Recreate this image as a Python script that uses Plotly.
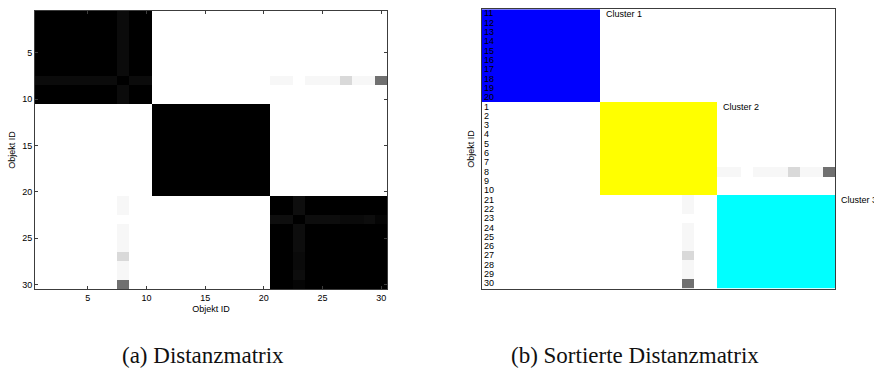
import numpy as np
import plotly.graph_objects as go

# ---------------------------------------------------------------------------
# Data
# ---------------------------------------------------------------------------
object_ids = list(range(1, 31))

# cluster membership of the 30 objects (object IDs)
cluster_a_ids = [1, 2, 3, 4, 5, 6, 7, 8, 9, 10]
cluster_b_ids = [11, 12, 13, 14, 15, 16, 17, 18, 19, 20]
cluster_c_ids = [21, 22, 23, 24, 25, 26, 27, 28, 29, 30]

# normalised distances: same cluster -> 0, different clusters -> 1
dist_within = 0.0
dist_between = 1.0

# object 8 deviates slightly: its distances to cluster A and cluster C objects
dist_obj8_to_a = [0.045, 0.045, 0.045, 0.045, 0.045, 0.045, 0.045, 0.0, 0.045, 0.045]
dist_obj8_to_c = [0.97, 0.97, 1.0, 0.97, 0.97, 0.97, 0.85, 0.97, 0.97, 0.44]
# object 23: its distances to the other cluster C objects
dist_obj23_to_c = [0.055, 0.055, 0.0, 0.05, 0.05, 0.05, 0.04, 0.04, 0.05, 0.02]

# order of the sorted matrix and its cluster labels
sorted_order = cluster_b_ids + cluster_a_ids + cluster_c_ids
cluster_names = ["Cluster 1", "Cluster 2", "Cluster 3"]
cluster_groups = [cluster_b_ids, cluster_a_ids, cluster_c_ids]
cluster_colors = ["#0000ff", "#ffff00", "#00ffff"]

left_ticks = [5, 10, 15, 20, 25, 30]
caption_left = "(a) Distanzmatrix"
caption_right = "(b) Sortierte Distanzmatrix"
axis_title = "Objekt ID"

# ---------------------------------------------------------------------------
# Distance matrix
# ---------------------------------------------------------------------------
n = len(object_ids)
membership = {}
for ci, grp in enumerate([cluster_a_ids, cluster_b_ids, cluster_c_ids]):
    for oid in grp:
        membership[oid] = ci

D = np.empty((n, n))
for i, oi in enumerate(object_ids):
    for j, oj in enumerate(object_ids):
        D[i, j] = dist_within if membership[oi] == membership[oj] else dist_between


def set_sym(a, b, v):
    D[a - 1, b - 1] = v
    D[b - 1, a - 1] = v


for oid, v in zip(cluster_a_ids, dist_obj8_to_a):
    set_sym(8, oid, v)
for oid, v in zip(cluster_c_ids, dist_obj8_to_c):
    set_sym(8, oid, v)
for oid, v in zip(cluster_c_ids, dist_obj23_to_c):
    set_sym(23, oid, v)

# sorted matrix: grey values outside the cluster blocks, cluster index inside
idx = [o - 1 for o in sorted_order]
Ds = D[np.ix_(idx, idx)]
sorted_cluster = {}
for ci, grp in enumerate(cluster_groups):
    for oid in grp:
        sorted_cluster[oid] = ci
grey_sorted = np.full((n, n), np.nan)
block_sorted = np.full((n, n), np.nan)
for i, oi in enumerate(sorted_order):
    for j, oj in enumerate(sorted_order):
        if sorted_cluster[oi] == sorted_cluster[oj]:
            block_sorted[i, j] = sorted_cluster[oi]
        else:
            grey_sorted[i, j] = Ds[i, j]

positions = list(range(1, n + 1))
grey_scale = [[0.0, "#000000"], [1.0, "#ffffff"]]

# ---------------------------------------------------------------------------
# Figure
# ---------------------------------------------------------------------------
W, H = 874, 383
fig = go.Figure()

fig.add_trace(go.Heatmap(
    z=D, x=object_ids, y=object_ids, colorscale=grey_scale,
    zmin=0, zmax=1, showscale=False, xaxis="x", yaxis="y",
))
fig.add_trace(go.Heatmap(
    z=grey_sorted, x=positions, y=positions, colorscale=grey_scale,
    zmin=0, zmax=1, showscale=False, xaxis="x2", yaxis="y2",
))
fig.add_trace(go.Heatmap(
    z=block_sorted, x=positions, y=positions,
    colorscale=[[0.0, cluster_colors[0]], [0.5, cluster_colors[1]], [1.0, cluster_colors[2]]],
    zmin=0, zmax=2, showscale=False, xaxis="x2", yaxis="y2",
))

small_font = dict(family="Liberation Sans, Arial, sans-serif", size=9, color="#000000")
row_font = dict(family="Liberation Sans, Arial, sans-serif", size=9, color="#000000")
frame = "#3c3c3c"

fig.update_layout(
    width=W, height=H,
    margin=dict(l=0, r=0, t=0, b=0),
    paper_bgcolor="white", plot_bgcolor="white",
    showlegend=False,
    font=small_font,
    xaxis=dict(
        domain=[35 / W, 387 / W], range=[0.5, 30.5],
        tickvals=left_ticks, ticks="inside", ticklen=3,
        tickcolor=frame, showline=True, linecolor=frame, linewidth=1,
        mirror="ticks", showgrid=False, zeroline=False,
        tickfont=small_font,
        title=dict(text=axis_title, font=small_font, standoff=3),
    ),
    yaxis=dict(
        domain=[1 - 289 / H, 1 - 11 / H], range=[30.5, 0.5],
        tickvals=left_ticks, ticks="inside", ticklen=3,
        tickcolor=frame, showline=True, linecolor=frame, linewidth=1,
        mirror="ticks", showgrid=False, zeroline=False,
        tickfont=small_font,
        title=dict(text=axis_title, font=small_font, standoff=5),
    ),
    xaxis2=dict(
        domain=[482 / W, 835 / W], range=[0.5, 30.5], anchor="y2",
        showticklabels=False, ticks="", showline=True, linecolor=frame,
        linewidth=1, mirror=True, showgrid=False, zeroline=False,
    ),
    yaxis2=dict(
        domain=[1 - 288.5 / H, 1 - 9.3 / H], range=[30.5, 0.5], anchor="x2",
        showticklabels=False, ticks="", showline=True, linecolor=frame,
        linewidth=1, mirror=True, showgrid=False, zeroline=False,
        title=dict(text=axis_title, font=small_font, standoff=4),
    ),
)

# object IDs of the sorted rows, written inside the left edge
for pos, oid in zip(positions, sorted_order):
    fig.add_annotation(
        x=0.5, y=pos, xref="x2", yref="y2", text=str(oid), showarrow=False,
        xanchor="left", yanchor="middle", xshift=1, yshift=0.5,
        font=row_font, borderpad=0,
    )

# cluster labels at the upper right corner of each block
start = 0
for name, grp in zip(cluster_names, cluster_groups):
    first = start + 1
    last = start + len(grp)
    fig.add_annotation(
        x=last + 0.5, y=first - 0.5, xref="x2", yref="y2",
        text=name, showarrow=False, xanchor="left", yanchor="middle",
        xshift=4, yshift=-4.5, font=small_font,
    )
    start = last

# sub-figure captions
caption_font = dict(family="Liberation Serif, Times New Roman, serif", size=23, color="#111111")
fig.add_annotation(x=203 / W, y=1 - 355 / H, xref="paper", yref="paper",
                   text=caption_left, showarrow=False, font=caption_font,
                   xanchor="center", yanchor="middle")
fig.add_annotation(x=635 / W, y=1 - 355 / H, xref="paper", yref="paper",
                   text=caption_right, showarrow=False, font=caption_font,
                   xanchor="center", yanchor="middle")

fig.write_html("out.html")
